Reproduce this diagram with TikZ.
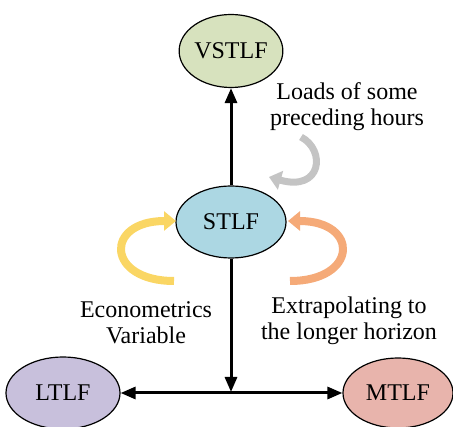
\documentclass[tikz,border=0pt]{standalone}
\usepackage{fontspec}
\setmainfont{Liberation Serif}
\usetikzlibrary{shapes.geometric,arrows.meta}
\definecolor{cvst}{RGB}{215,226,190}
\definecolor{cst}{RGB}{172,215,227}
\definecolor{clt}{RGB}{200,192,220}
\definecolor{cmt}{RGB}{232,180,172}
\definecolor{cyel}{RGB}{250,214,100}
\definecolor{corg}{RGB}{245,170,120}
\definecolor{cgry}{RGB}{196,196,196}
\tikzset{
  bubble/.style={ellipse,draw=black,line width=1.2pt,inner sep=0pt,
    font=\fontsize{24}{26}\selectfont},
  lbl/.style={align=center,inner sep=0pt,font=\fontsize{24}{26}\selectfont},
  conn/.style={line width=3pt,-{Triangle[length=15pt,width=12pt]}},
  swirl/.style={line width=8pt,-{Triangle[length=12pt,width=19pt]}}
}
\begin{document}
\begin{tikzpicture}[x=1pt,y=-1pt]
\useasboundingbox (0,0) rectangle (453,427);
\node[bubble,fill=cvst,minimum width=103pt,minimum height=73pt] (vst) at (231,51) {VSTLF};
\node[bubble,fill=cst,minimum width=110pt,minimum height=72pt] (st) at (231,222) {STLF};
\node[bubble,fill=clt,minimum width=114pt,minimum height=72pt] (lt) at (63,393) {LTLF};
\node[bubble,fill=cmt,minimum width=110pt,minimum height=70pt] (mt) at (398,393) {MTLF};
\coordinate (j) at (231,393);
\coordinate (jt) at (231,392);
\node[lbl] (l1) at (347,107) {Loads of some\\preceding hours};
\node[lbl] (l2) at (146,323) {Econometrics\\Variable};
\node[lbl] (l3) at (349,321) {Extrapolating to\\the longer horizon};
\draw[conn] (st.north) -- (vst.south);
\draw[conn] (st.south) -- (jt);
\draw[conn] (j) -- (lt.east);
\draw[conn] (j) -- (mt.west);
\coordinate (ya) at (174,281);
\coordinate (yb) at (176,221);
\draw[swirl,draw=cyel] (ya) .. controls (106,281) and (104,221) .. (yb);
\coordinate (oa) at (290,281);
\coordinate (ob) at (288,221);
\draw[swirl,draw=corg] (oa) .. controls (358,281) and (360,221) .. (ob);
\coordinate (ga) at (301,137);
\coordinate (gb) at (269,177);
\draw[swirl,line width=7pt,draw=cgry] (ga) .. controls (326,150) and (322,192) .. (gb);
\end{tikzpicture}
\end{document}
